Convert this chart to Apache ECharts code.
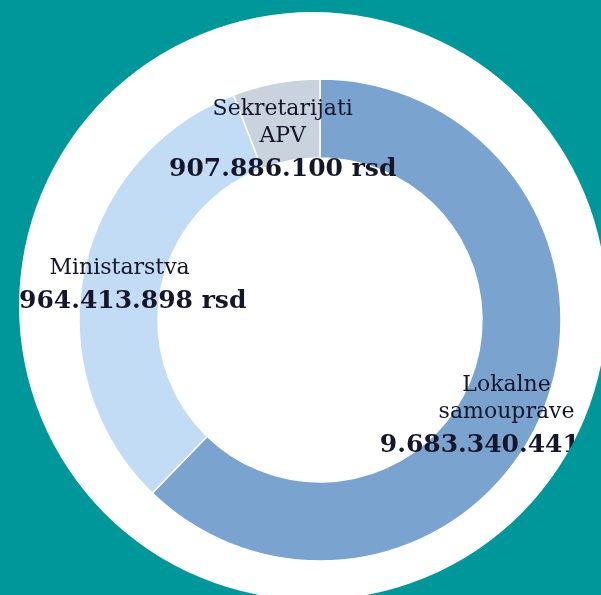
<!DOCTYPE html>
<html>
<head>
<meta charset="utf-8">
<script src="https://cdn.jsdelivr.net/npm/echarts@6/dist/echarts.min.js"></script>
<style>
  html, body { margin: 0; padding: 0; background: #fff; }
  #chart { width: 601px; height: 595px; }
</style>
</head>
<body>
<div id="chart"></div>
<script>
// budget split, values in dinars
const names = ['Lokalne\nsamouprave', 'Ministarstva', 'Sekretarijati\nAPV'];
const values = [9683340441, 4964413898, 907886100];
const colors = ['#7ba3cf', '#c3dcf5', '#c9d3de'];
// small nudges of the label blocks from the ring middle
const labelShift = [[-3, 22], [0, 9], [0, 24]];

const fmt = v => String(v).replace(/\B(?=(\d{3})+(?!\d))/g, '.');

const myChart = echarts.init(document.getElementById('chart'));

const option = {
  backgroundColor: '#ffffff',
  animation: false,
  graphic: {
    elements: [{
      // teal frame around the white disc, drawn above labels so they get cut
      type: 'ring',
      shape: { cx: 313, cy: 306, r: 900, r0: 294 },
      style: { fill: '#00979b' },
      z: 100,
      silent: true,
    }],
  },
  series: [{
    type: 'pie',
    center: [320, 320],
    radius: [162, 241],
    startAngle: 90,
    clockwise: true,
    itemStyle: {
      borderColor: '#ffffff',
      borderWidth: 1.5,
    },
    label: {
      show: true,
      position: 'inside',
      color: '#16162a',
      formatter: p => '{n|' + p.name.split('\n').join('}\n{n|') + '}\n{v|' + fmt(p.value) + ' rsd}',
      rich: {
        n: {
          fontFamily: 'DejaVu Serif',
          fontSize: 22,
          lineHeight: 27,
          color: '#16162a',
        },
        v: {
          fontFamily: 'DejaVu Serif',
          fontSize: 25,
          fontWeight: 'bold',
          lineHeight: 40,
          color: '#16162a',
        },
      },
    },
    labelLine: { show: false },
    labelLayout: p => ({ dx: labelShift[p.dataIndex][0], dy: labelShift[p.dataIndex][1] }),
    data: names.map((n, i) => ({
      name: n,
      value: values[i],
      itemStyle: { color: colors[i] },
    })),
  }],
};

myChart.setOption(option);
</script>
</body>
</html>
